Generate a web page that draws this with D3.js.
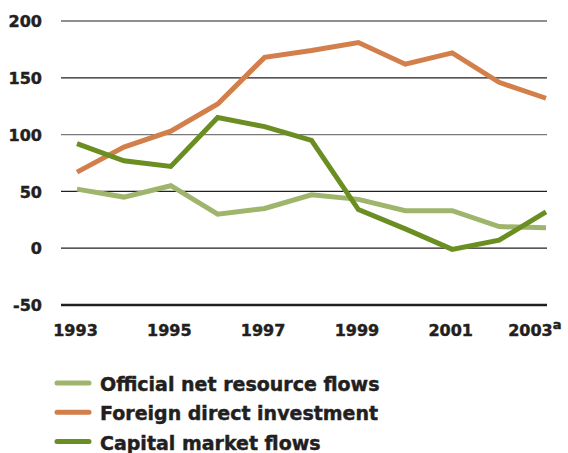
<!DOCTYPE html>
<html>
<head>
<meta charset="utf-8">
<script src="https://cdn.jsdelivr.net/npm/d3@7"></script>
<style>
  html, body { margin: 0; padding: 0; background: #fff; }
  svg { display: block; }
  text { font-family: "DejaVu Sans", sans-serif; font-weight: bold; fill: #231f20; stroke: #231f20; stroke-width: 0.45px; }
</style>
</head>
<body>
<svg id="chart" width="568" height="453"></svg>
<script>
// Net resource flows to developing countries, billions of US$
const years = [1993, 1994, 1995, 1996, 1997, 1998, 1999, 2000, 2001, 2002, 2003];
const officialFlows = [52, 45, 55, 30, 35, 47, 43, 33, 33, 19, 18];
const foreignDirect = [67, 89, 103, 127, 168, 174, 181, 162, 172, 146, 132];
const capitalMarket = [92, 77, 72, 115, 107, 95, 34, 17, -1, 7, 32];
const yTicks = [-50, 0, 50, 100, 150, 200];
const xTickYears = [1993, 1995, 1997, 1999, 2001, 2003];

const seriesList = [
  { name: "Official net resource flows", values: officialFlows, color: "#9fb56c" },
  { name: "Foreign direct investment", values: foreignDirect, color: "#d27f4b" },
  { name: "Capital market flows", values: capitalMarket, color: "#6b8e23" }
];

const svg = d3.select("#chart");
const x = d3.scaleLinear().domain([1993, 2003]).range([77, 546]);
const y = d3.scaleLinear().domain([-50, 200]).range([305, 21]);
const gridLeft = 61, gridRight = 547;

// horizontal grid lines
const grid = svg.append("g");
grid.selectAll("line").data(yTicks).join("line")
  .attr("x1", gridLeft).attr("x2", gridRight)
  .attr("y1", d => y(d)).attr("y2", d => y(d))
  .attr("stroke", d => d === 100 ? "#7a7a7a" : "#231f20")
  .attr("stroke-width", d => d === -50 ? 2.5 : 1.2);

// y labels (plain hyphen for negatives)
const yAxis = d3.axisLeft(y).tickValues(yTicks).tickSize(0).tickPadding(0)
  .tickFormat(d => String(d));
const gy = svg.append("g").attr("transform", "translate(42,0)").call(yAxis);
gy.select(".domain").remove();
gy.selectAll("text")
  .attr("font-size", 16).attr("font-family", null).attr("font-weight", "bold")
  .attr("fill", "#231f20").attr("dy", "0.36em");

// x labels
const xAxis = d3.axisBottom(x).tickValues(xTickYears).tickSize(0).tickPadding(0).tickFormat(d3.format("d"));
const gx = svg.append("g").attr("transform", "translate(0,336)").call(xAxis);
gx.select(".domain").remove();
gx.selectAll("text")
  .attr("font-size", 16).attr("font-family", null).attr("font-weight", "bold")
  .attr("fill", "#231f20").attr("y", 0).attr("dy", 0).attr("dx", -2);
const lastLabel = gx.selectAll(".tick").filter(d => d === 2003).select("text")
  .attr("text-anchor", "end").attr("dx", 15);
lastLabel.append("tspan").text("a").attr("font-size", 13).attr("dy", "-0.55em");

// lines
const line = d3.line().x((d, i) => x(years[i])).y(d => y(d));
svg.append("g").selectAll("path").data(seriesList).join("path")
  .attr("d", s => line(s.values))
  .attr("fill", "none")
  .attr("stroke", s => s.color)
  .attr("stroke-width", 5)
  .attr("stroke-linejoin", "miter")
  .attr("stroke-linecap", "butt");

// legend
const legend = svg.append("g").attr("transform", "translate(0,383)");
const item = legend.selectAll("g").data(seriesList).join("g")
  .attr("transform", (d, i) => `translate(0,${i * 29.3})`);
item.append("line")
  .attr("x1", 57).attr("x2", 89).attr("y1", 0).attr("y2", 0)
  .attr("stroke", d => d.color).attr("stroke-width", 5).attr("stroke-linecap", "round");
item.append("text")
  .attr("x", 100).attr("y", 8)
  .attr("font-size", 19)
  .text(d => d.name);
</script>
</body>
</html>
